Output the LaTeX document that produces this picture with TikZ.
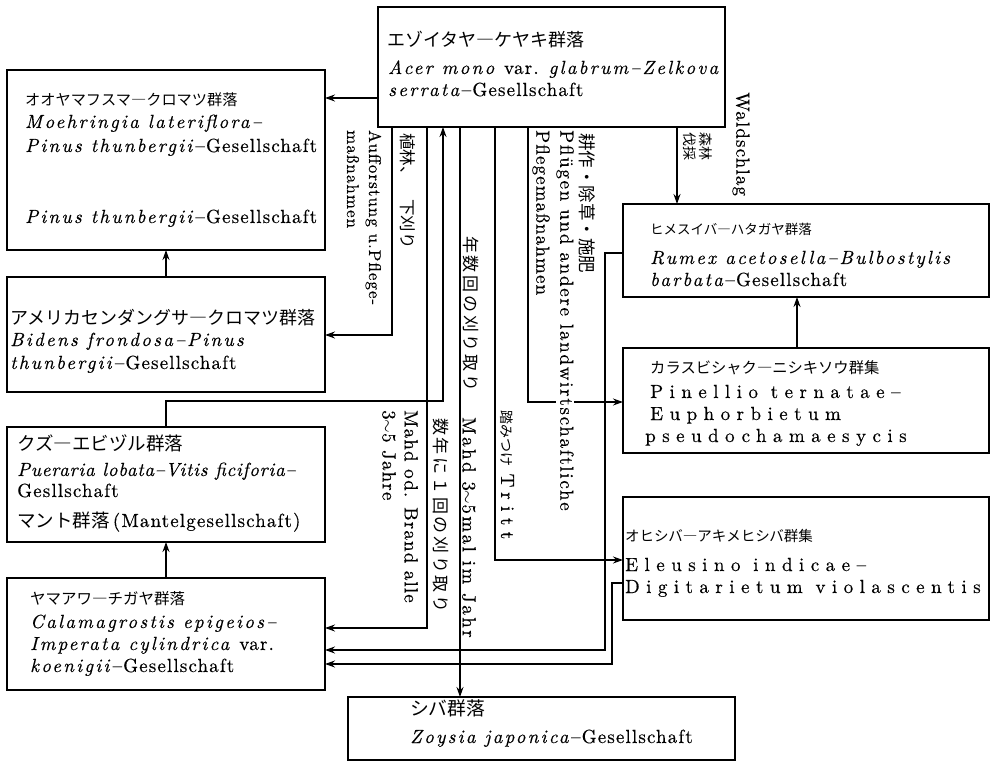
\documentclass[tikz,border=0pt]{standalone}
\usepackage{fontspec}
\setmainfont{lmroman10}[Extension=.otf, UprightFont=*-regular, ItalicFont=*-italic, BoldFont=*-bold, BoldItalicFont=*-bolditalic, UprightFeatures={LetterSpace=6, FakeBold=0.4}, ItalicFeatures={LetterSpace=12, FakeBold=0.4}]
\newfontfamily\spf{lmroman10-regular.otf}[LetterSpace=34, FakeBold=0.4]
\newfontfamily\lmw{lmroman10-regular.otf}[LetterSpace=13, FakeBold=0.4]
\newfontfamily\lmv{lmroman10-regular.otf}[LetterSpace=9, FakeBold=0.4]
\newfontfamily\itn{lmroman10-italic.otf}[LetterSpace=4, FakeBold=0.4]
\newfontfamily\jpfont{Noto Sans CJK JP}
\newfontfamily\jpv{Noto Sans CJK JP}[LetterSpace=16]
\usetikzlibrary{arrows.meta}
\newcommand\J[2]{{\jpfont\fontsize{#1}{#1}\selectfont #2}}
\begin{document}
\begin{tikzpicture}[x=1pt,y=-1pt, font=\fontsize{19}{22}\selectfont,
  box/.style={draw, line width=1.3pt, inner sep=0pt, outer sep=0pt},
  conn/.style={line width=1.2pt},
  arr/.style={conn, -{Stealth[length=10pt,width=7pt,inset=3.5pt]}},
  txt/.style={anchor=base west, inner sep=0pt},
  vlab/.style={rotate=-90, anchor=west, inner sep=0pt, align=left}]
\useasboundingbox (0,0) rectangle (991,762);
% boxes
\node[box, minimum width=347pt, minimum height=120pt] (A) at (551.5,67) {};
\node[box, minimum width=318pt, minimum height=180pt] (B) at (166,160) {};
\node[box, minimum width=318pt, minimum height=115pt] (C) at (166,334.5) {};
\node[box, minimum width=318pt, minimum height=115pt] (K) at (166,484.5) {};
\node[box, minimum width=318pt, minimum height=112pt] (Cal) at (166,634) {};
\node[box, minimum width=366pt, minimum height=93pt] (R) at (806,250.5) {};
\node[box, minimum width=366pt, minimum height=105pt] (P) at (806,400.5) {};
\node[box, minimum width=366pt, minimum height=123pt] (E) at (806,558.5) {};
\node[box, minimum width=387pt, minimum height=63pt] (Z) at (541.5,728.5) {};
% helper levels
\coordinate (y98) at (0,98);
\coordinate (y335) at (0,335);
\coordinate (y401) at (0,401);
\coordinate (y628) at (0,628);
\coordinate (y560) at (0,560);
\coordinate (y402) at (0,402);
\coordinate (y253) at (0,253);
\coordinate (y650) at (0,650);
\coordinate (y583) at (0,583);
\coordinate (y664) at (0,664);
\coordinate (x392) at (392,0);
\coordinate (x427) at (427,0);
\coordinate (x443) at (443,0);
\coordinate (x460) at (460,0);
\coordinate (x495) at (495,0);
\coordinate (x528) at (528,0);
\coordinate (x605) at (605,0);
\coordinate (x612) at (612,0);
\coordinate (x677) at (677,0);
\coordinate (x797) at (797,0);
% connectors
\draw[arr] (A.west |- y98) -- (B.east |- y98);
\draw[arr] (C.north) -- (B.south);
\draw[arr] (A.south -| x392) |- (C.east |- y335);
\draw[arr] (K.north) |- (x443 |- y401) -- (A.south -| x443);
\draw[arr] (A.south -| x427) |- (Cal.east |- y628);
\draw[arr] (A.south -| x460) -- (Z.north -| x460);
\draw[arr] (A.south -| x495) |- (E.west |- y560);
\draw[arr] (A.south -| x528) |- (P.west |- y402);
\draw[arr] (A.south -| x677) -- (R.north -| x677);
\draw[arr] (P.north -| x797) -- (R.south -| x797);
\draw[arr] (Cal.north) -- (K.south);
\draw[arr] (R.west |- y253) -| (x605 |- y650) -- (Cal.east |- y650);
\draw[arr] (E.west |- y583) -| (x612 |- y664) -- (Cal.east |- y664);
% texts in boxes
\node[txt] (a1) at (387,47) {\J{18}{エゾイタヤ―ケヤキ群落}};
\node[txt] (a2) at (388,74) {\textit{Acer mono} var. \textit{glabrum–Zelkova}};
\node[txt] (a3) at (388,96) {\textit{serrata}–Gesellschaft};
\node[txt] (b1) at (25,106) {\J{15.2}{オオヤマフスマ―クロマツ群落}};
\node[txt] (b2) at (25,128) {\textit{Moehringia lateriflora–}};
\node[txt] (b3) at (25,152) {\textit{Pinus thunbergii}–Gesellschaft};
\node[txt] (b4) at (25,223) {\textit{Pinus thunbergii}–Gesellschaft};
\node[txt] (c1) at (10,324) {\J{18}{アメリカセンダングサ―クロマツ群落}};
\node[txt] (c2) at (10,346) {\textit{Bidens frondosa–Pinus}};
\node[txt] (c3) at (10,369) {\textit{thunbergii}–Gesellschaft};
\node[txt] (k1) at (17,450) {\J{18.5}{クズ―エビヅル群落}};
\node[txt] (k2) at (17,476) {{\itn Pueraria lobata–Vitis ficiforia–}};
\node[txt] (k3) at (17,497) {Gesllschaft};
\node[txt] (k4) at (17,527) {\J{18.5}{マント群落}\,(Mantelgesellschaft)};
\node[txt] (m1) at (30,604) {\J{15.5}{ヤマアワ―チガヤ群落}};
\node[txt] (m2) at (30,628) {\textit{Calamagrostis epigeios–}};
\node[txt] (m3) at (30,650) {\textit{Imperata cylindrica} var.};
\node[txt] (m4) at (30,672) {\textit{koenigii}–Gesellschaft};
\node[txt] (r1) at (650,235) {\J{13.5}{ヒメスイバ―ハタガヤ群落}};
\node[txt] (r2) at (650,264) {\textit{Rumex acetosella–Bulbostylis}};
\node[txt] (r3) at (650,286) {\textit{barbata}–Gesellschaft};
\node[txt] (p1) at (650,373) {\J{15.3}{カラスビシャク―ニシキソウ群集}};
\node[txt] (p2) at (650,398) {{\spf Pinellio ternatae–}};
\node[txt] (p3) at (650,420) {{\spf Euphorbietum}};
\node[txt] (p4) at (645,442) {{\spf pseudochamaesycis}};
\node[txt] (e1) at (625,541) {\J{14.5}{オヒシバ―アキメヒシバ群集}};
\node[txt] (e2) at (625,571) {{\spf Eleusino indicae–}};
\node[txt] (e3) at (625,593) {{\spf Digitarietum violascentis}};
\node[txt] (z1) at (410,715) {\J{18.8}{シバ群落}};
\node[txt] (z2) at (410,743) {\textit{Zoysia japonica}–Gesellschaft};
% rotated labels
\node[vlab, font=\jpfont\fontsize{16.5}{17}\selectfont] (v1) at (408,133) {植林、　下刈り};
\node[vlab, font=\fontsize{17}{22}\selectfont] (v2) at (364,130) {Aufforstung u.Pflege-\\maßnahmen};
\node[vlab, font=\jpv\fontsize{17}{17}\selectfont] (v3) at (471,236) {年数回の刈り取り};
\node[vlab, font=\jpv\fontsize{17}{17}\selectfont] (v4) at (441,418) {数年に１回の刈り取り};
\node[vlab] (v5) at (400,410) {Mahd od. Brand alle\\3$\sim$5 Jahre};
\node[vlab, font=\lmw\fontsize{19}{22}\selectfont] (v6) at (469,417) {Mahd 3$\sim$5mal im Jahr};
\node[vlab] (v7) at (507,410) {\J{14}{踏みつけ} {\spf Tritt}};
\node[vlab, font=\jpfont\fontsize{17.5}{17.5}\selectfont] (v8) at (587,133) {耕作・除草・施肥};
\node[vlab, fill=white, font=\lmv\fontsize{19}{22}\selectfont] (v9) at (565,130) {Pflügen und andere landwirtschaftliche};
\node[vlab] (v10) at (541,130) {Pflegemaßnahmen};
\node[vlab] (v11) at (741,92) {Waldschlag};
\node[vlab, font=\jpfont\fontsize{14}{16}\selectfont] (v12) at (698,132) {森林\\伐採};
\end{tikzpicture}
\end{document}
